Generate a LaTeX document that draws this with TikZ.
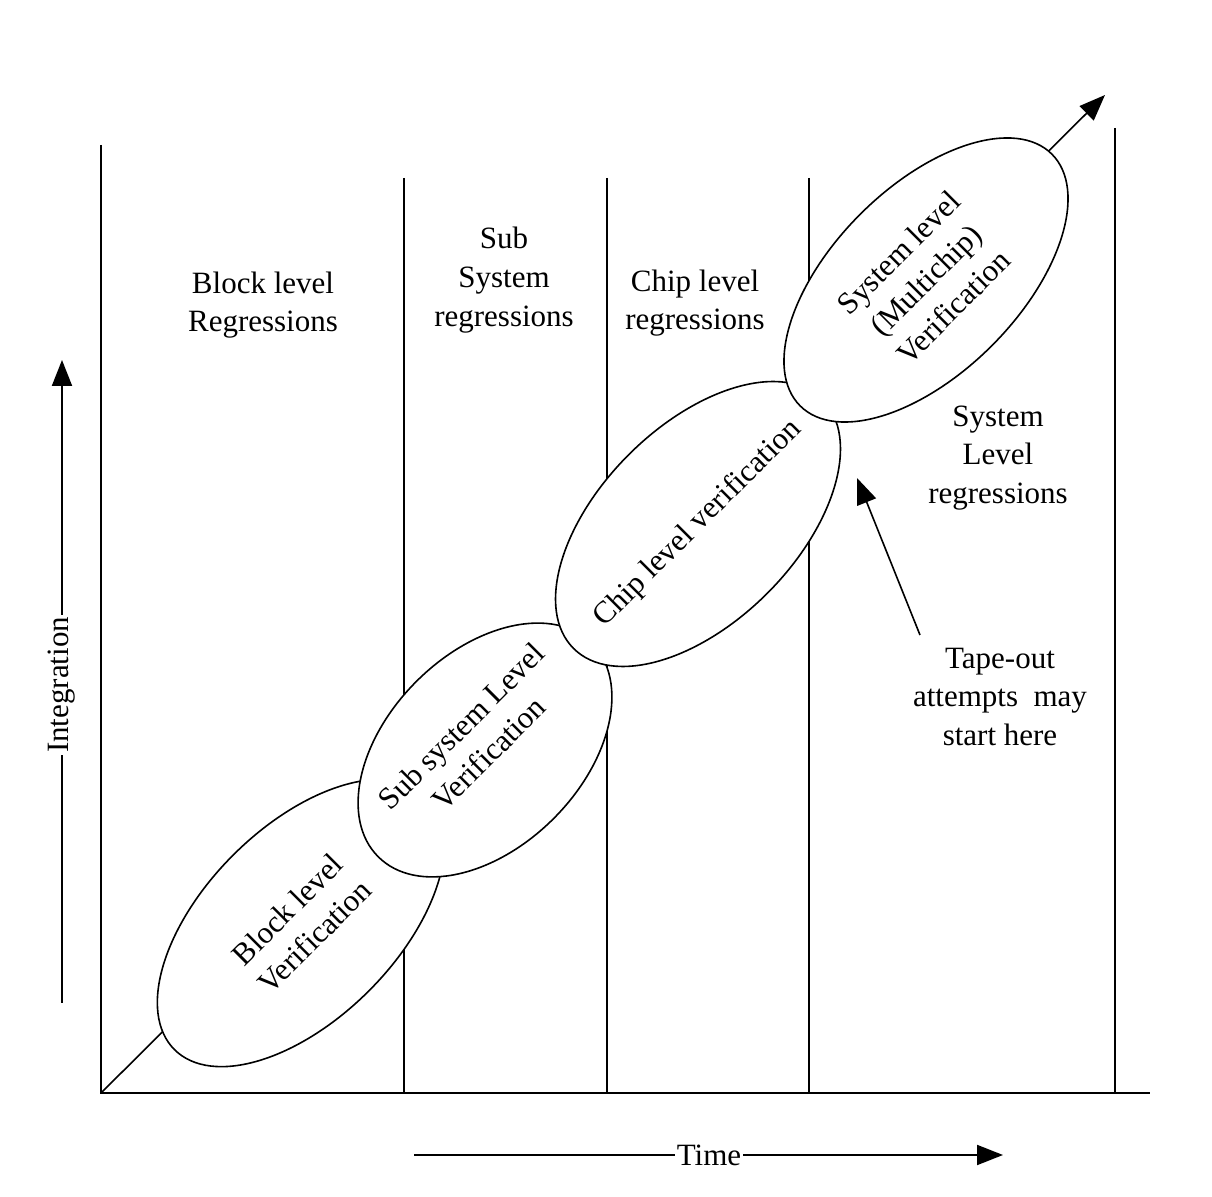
\documentclass[tikz,border=0pt]{standalone}
\usepackage{fontspec}
\setmainfont{Liberation Serif}
\usetikzlibrary{arrows.meta,shapes.geometric}
\begin{document}
\begin{tikzpicture}[x=0.5pt,y=-0.5pt,
  axisline/.style={line width=1pt},
  vline/.style={line width=1pt},
  ell/.style={ellipse, draw, fill=white, line width=0.8pt, inner sep=0pt, rotate=45},
  lbl/.style={align=center, font=\fontsize{15.5}{19.3}\selectfont, inner sep=1pt},
  arr/.style={line width=1pt, -{Triangle[length=13pt,width=10pt]}},
]
\useasboundingbox (0,0) rectangle (1212,1197);
% axes
\coordinate (O) at (101,1093);
\coordinate (ytop) at (101,145);
\coordinate (xend) at (1150,1093);
\draw[axisline] (ytop) -- (O) -- (xend);
% vertical separators
\coordinate (v1t) at (404,178); \coordinate (v1b) at (404,1093);
\coordinate (v2t) at (607,178); \coordinate (v2b) at (607,1093);
\coordinate (v3t) at (809,178); \coordinate (v3b) at (809,1093);
\coordinate (v4t) at (1115,128); \coordinate (v4b) at (1115,1093);
\draw[vline] (v1t) -- (v1b);
\draw[vline] (v2t) -- (v2b);
\draw[vline] (v3t) -- (v3b);
\draw[vline] (v4t) -- (v4b);
% diagonal arrow
\coordinate (dtip) at (1105,95);
\draw[arr, line width=0.8pt] (O) -- (dtip);
% ellipses
\node[ell, minimum width=179pt, minimum height=96pt] (blk) at (301,923) {};
\node[ell, minimum width=151pt, minimum height=97pt] (sub) at (485,750) {};
\node[ell, minimum width=176pt, minimum height=98pt] (chip) at (698,524) {};
\node[ell, minimum width=178pt, minimum height=93pt] (sys) at (926,280) {};
% ellipse texts
\node[lbl, rotate=45] (blkt) at (blk.center) {Block level\\Verification};
\node[lbl, rotate=45] (subt) at ([shift={(-10,-10)}]sub.center) {Sub system Level\\Verification};
\node[lbl, rotate=45] (chipt) at (chip.center) {Chip level verification};
\node[lbl, rotate=45] (syst) at (sys.center) {System level\\(Multichip)\\Verification};
% region labels
\node[lbl] (r1) at (263,305) {Block level\\Regressions};
\node[lbl] (r2) at (504,280) {Sub\\System\\regressions};
\node[lbl] (r3) at (695,303) {Chip level\\regressions};
\node[lbl] (r4) at (998,458) {System\\Level\\regressions};
% tape-out note
\node[lbl] (tape) at (1000,697) {Tape-out\\attempts\ \ may\\start here};
\coordinate (tapetail) at (920,635);
\coordinate (tapetip) at (857,478);
\draw[arr, line width=0.8pt] (tapetail) -- (tapetip);
% Integration axis label
\coordinate (ib) at (62,1003);
\coordinate (it) at (62,360);
\draw[arr] (ib) -- (it);
\node[lbl, rotate=90, fill=white] (integ) at (62,685) {Integration};
% Time axis label
\coordinate (tl) at (414,1155);
\coordinate (tr) at (1003,1155);
\draw[arr] (tl) -- (tr);
\node[lbl, fill=white] (time) at (709,1155) {Time};
\end{tikzpicture}
\end{document}
